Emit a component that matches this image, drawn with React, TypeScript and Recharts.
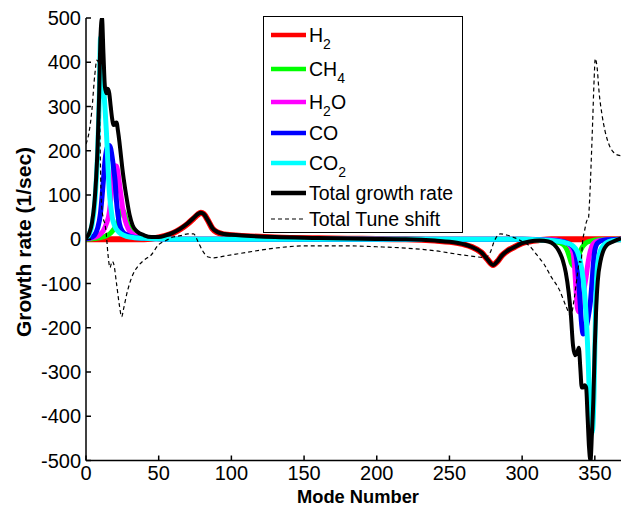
import React from 'react';
import { LineChart, Line, XAxis, YAxis } from 'recharts';

// growth rate per gas species vs. mode number
const h2Modes = [0, 40, 45, 50, 55, 60, 65, 70, 74, 77, 79, 81, 84, 87, 90, 95, 100, 110, 130, 160, 190, 220, 240, 255, 265, 272, 276, 280, 283, 286, 290, 295, 300, 305, 312, 320, 368];
const h2Rate = [0, 0, 1, 4, 8, 14, 23, 35, 47, 56, 60, 57, 42, 24, 16, 11, 9, 7, 4, 2, 1, 0, -3, -8, -17, -30, -45, -58, -50, -37, -26, -17, -9, -5, -2, 0, 0];

const ch4Modes = [0, 10, 14, 17, 19, 21, 22, 23, 24, 25, 26, 27, 28, 30, 33, 37, 45, 60, 300, 315, 322, 326, 329, 331, 333, 334, 335, 336, 337, 338, 339, 340, 341, 342, 344, 347, 352, 368];
const ch4Rate = [0, 4, 8, 14, 22, 32, 40, 55, 63, 66, 62, 52, 40, 25, 12, 6, 2, 0, 0, -2, -5, -8, -14, -25, -45, -55, -60, -60, -55, -45, -35, -27, -20, -15, -8, -4, -1, 0];

const h2oModes = [0, 6, 10, 12, 14, 16, 17, 18, 19, 20, 21, 22, 23, 24, 25, 27, 29, 32, 36, 45, 60, 300, 320, 326, 330, 333, 335, 336, 337, 338, 339, 340, 341, 342, 343, 344, 345, 346, 347, 349, 352, 360, 368];
const h2oRate = [1, 4, 12, 20, 35, 60, 90, 130, 158, 166, 165, 150, 125, 100, 75, 42, 24, 12, 6, 2, 0, 0, -1, -3, -8, -15, -30, -60, -110, -155, -164, -160, -145, -125, -105, -85, -60, -40, -25, -10, -4, -1, 0];

const coModes = [0, 4, 6, 8, 10, 11, 12, 13, 14, 15, 16, 17, 18, 19, 20, 21, 22, 23, 25, 28, 32, 40, 50, 60, 300, 320, 328, 332, 335, 337, 338, 339, 340, 341, 342, 343, 344, 345, 346, 347, 348, 349, 350, 352, 356, 368];
const coRate = [1, 5, 10, 25, 60, 95, 135, 175, 200, 210, 212, 205, 185, 160, 132, 85, 55, 35, 18, 10, 5, 2, 1, 0, 0, -2, -5, -10, -18, -35, -60, -100, -150, -195, -214, -210, -200, -185, -165, -140, -100, -55, -25, -8, -2, 0];

const co2Modes = [0, 2, 4, 6, 7, 8, 9, 10, 11, 12, 13, 14, 15, 16, 17, 18, 20, 23, 26, 30, 40, 50, 60, 300, 310, 320, 330, 335, 338, 340, 342, 344, 345.5, 346.5, 347.5, 348.5, 349.5, 350.5, 351.5, 353, 355, 358, 362, 368];
const co2Rate = [2, 10, 30, 80, 130, 195, 300, 455, 420, 350, 300, 245, 175, 110, 75, 50, 28, 15, 9, 5, 2, 1, 0, 0, -1, -3, -8, -15, -28, -50, -90, -170, -280, -380, -440, -430, -340, -160, -75, -35, -18, -8, -3, -1];

const totalModes = [0, 2, 4, 6, 7, 8, 9, 10, 11, 12, 13, 14, 15, 16, 17, 18, 19, 20, 21, 22, 23, 24, 25, 26, 28, 30, 32, 35, 40, 45, 50, 55, 60, 65, 70, 74, 77, 79, 81, 84, 87, 90, 95, 100, 110, 130, 160, 190, 220, 240, 255, 265, 272, 276, 280, 283, 286, 290, 295, 300, 305, 312, 318, 322, 325, 328, 330, 332, 333.5, 335, 336.5, 338, 339, 340, 341, 342, 343, 344, 345, 346, 347, 348, 349, 350, 351, 352, 354, 356, 358, 362, 368];
const totalRate = [3, 12, 35, 90, 140, 210, 320, 460, 500, 420, 345, 330, 340, 330, 300, 272, 258, 262, 264, 245, 220, 190, 160, 135, 92, 55, 32, 18, 9, 5, 5, 9, 15, 24, 36, 48, 57, 60, 57, 42, 25, 17, 12, 10, 8, 5, 3, 1, 0, -3, -8, -17, -30, -45, -58, -50, -37, -26, -17, -9, -5, -3, -5, -12, -25, -48, -75, -120, -170, -240, -262, -255, -245, -290, -335, -335, -330, -335, -400, -470, -500, -440, -360, -240, -150, -95, -48, -25, -14, -6, 2];

const tuneModes = [0, 2, 4, 6, 7.5, 8.5, 9.5, 10.5, 12, 13, 14, 15, 16.5, 18, 19, 21, 23, 24.5, 26, 28, 30, 32.5, 36, 40, 45, 50, 55, 60, 65, 70, 74, 77, 80, 84, 88, 95, 110, 130, 150, 180, 200, 220, 240, 260, 275, 278, 281, 285, 290, 295, 300, 305, 310, 315, 320, 326, 330, 333.5, 336, 338, 339.5, 340.5, 341.5, 343, 344.5, 345.5, 346.5, 347.5, 348.5, 349.5, 350.3, 351.5, 353, 355, 357, 360, 363, 366, 368];
const tuneShift = [215, 240, 290, 370, 405, 400, 250, 90, 45, 35, 10, -30, -64, -50, -55, -100, -150, -175, -155, -124, -100, -78, -60, -47, -35, -12, -3, 5, 8, 12, 12, -5, -25, -40, -42, -38, -30, -20, -15, -15, -17, -20, -26, -36, -41, -30, -3, 12, 9, 3, -5, -15, -35, -56, -85, -117, -150, -172, -130, -80, -50, -52, -8, 20, 42, 45, 95, 175, 265, 360, 408, 390, 330, 280, 245, 212, 196, 190, 189];

const xTicks = [0, 50, 100, 150, 200, 250, 300, 350];
const yTicks = [-500, -400, -300, -200, -100, 0, 100, 200, 300, 400, 500];

const series = [
  { key: 'h2', modes: h2Modes, values: h2Rate },
  { key: 'ch4', modes: ch4Modes, values: ch4Rate },
  { key: 'h2o', modes: h2oModes, values: h2oRate },
  { key: 'co', modes: coModes, values: coRate },
  { key: 'co2', modes: co2Modes, values: co2Rate },
  { key: 'total', modes: totalModes, values: totalRate },
  { key: 'tune', modes: tuneModes, values: tuneShift },
];

function buildRows() {
  const byMode = new Map<number, any>();
  series.forEach((s) => {
    s.modes.forEach((m, i) => {
      const row = byMode.get(m) ?? { mode: m };
      row[s.key] = s.values[i];
      byMode.set(m, row);
    });
  });
  return Array.from(byMode.values()).sort((a, b) => a.mode - b.mode);
}

const rows = buildRows();

const W = 621;
const H = 506;
const font = '"Liberation Sans", Arial, Helvetica, sans-serif';
const tickStyle = { fill: '#000', fontSize: 20, fontFamily: font };

const subStyle: React.CSSProperties = { fontSize: 14, position: 'relative', top: 7, lineHeight: 0 };

const legendRows = [
  { y: 34, color: '#ff0000', label: <>H<span style={subStyle}>2</span></> },
  { y: 68, color: '#00ff00', label: <>CH<span style={subStyle}>4</span></> },
  { y: 101, color: '#ff00ff', label: <>H<span style={subStyle}>2</span>O</> },
  { y: 132, color: '#0000ff', label: <>CO</> },
  { y: 162, color: '#00ffff', label: <>CO<span style={subStyle}>2</span></> },
  { y: 192, color: '#000000', label: <>Total growth rate</> },
  { y: 218, color: '#000000', label: <>Total Tune shift</>, dashed: true },
];

function LegendBox() {
  const left = 263;
  const top = 16;
  return (
    <div
      style={{
        position: 'absolute',
        left,
        top,
        width: 198,
        height: 215,
        border: '1px solid #000',
        background: '#fff',
        fontFamily: font,
        fontSize: 19.5,
        color: '#000',
      }}
    >
      {legendRows.map((r, i) => (
        <div key={i} style={{ position: 'absolute', left: 0, top: r.y - top - 13, height: 26, width: 198 }}>
          <svg width={40} height={26} style={{ position: 'absolute', left: 6, top: 0 }}>
            <line
              x1={1}
              x2={36}
              y1={13}
              y2={13}
              stroke={r.color}
              strokeWidth={r.dashed ? 1.2 : 4.5}
              strokeDasharray={r.dashed ? '4 3' : undefined}
            />
          </svg>
          <div style={{ position: 'absolute', left: 45, top: 1, lineHeight: '24px', whiteSpace: 'nowrap' }}>{r.label}</div>
        </div>
      ))}
    </div>
  );
}

export default function App() {
  return (
    <div style={{ position: 'relative', width: W, height: H, background: '#fff', overflow: 'hidden' }}>
      <style>{'body{margin:0;}'}</style>
      <LineChart width={W} height={H} data={rows} margin={{ top: 18, right: 0, bottom: 15, left: 0 }}>
        <XAxis
          dataKey="mode"
          type="number"
          domain={[0, 368]}
          ticks={xTicks}
          interval={0}
          allowDataOverflow
          height={30.5}
          tickSize={-5}
          tickMargin={10.5}
          stroke="#000"
          strokeWidth={1.5}
          tick={tickStyle}
        />
        <XAxis
          xAxisId="top"
          orientation="top"
          dataKey="mode"
          type="number"
          domain={[0, 368]}
          ticks={xTicks}
          interval={0}
          allowDataOverflow
          height={0}
          tickSize={-5}
          tickFormatter={() => ''}
          stroke="#000"
        />
        <YAxis
          type="number"
          domain={[-500, 500]}
          ticks={yTicks}
          interval={0}
          allowDataOverflow
          width={86}
          tickSize={-5}
          tickMargin={10}
          stroke="#000"
          strokeWidth={1.5}
          tick={tickStyle}
        />
        <Line dataKey="h2" type="monotone" stroke="#ff0000" strokeWidth={6} dot={false} connectNulls isAnimationActive={false} />
        <Line dataKey="ch4" type="monotone" stroke="#00ff00" strokeWidth={5} dot={false} connectNulls isAnimationActive={false} />
        <Line dataKey="h2o" type="monotone" stroke="#ff00ff" strokeWidth={5} dot={false} connectNulls isAnimationActive={false} />
        <Line dataKey="co" type="monotone" stroke="#0000ff" strokeWidth={5} dot={false} connectNulls isAnimationActive={false} />
        <Line dataKey="co2" type="monotone" stroke="#00ffff" strokeWidth={5} dot={false} connectNulls isAnimationActive={false} />
        <Line dataKey="total" type="monotone" stroke="#000000" strokeWidth={4} dot={false} connectNulls isAnimationActive={false} />
        <Line
          dataKey="tune"
          type="monotone"
          stroke="#000000"
          strokeWidth={1.2}
          strokeDasharray="4 3"
          dot={false}
          connectNulls
          isAnimationActive={false}
        />
      </LineChart>
      <svg width={W} height={H} style={{ position: 'absolute', left: 0, top: 0, pointerEvents: 'none' }}>
        <text
          x={0}
          y={0}
          transform="translate(23,242) rotate(-90)"
          textAnchor="middle"
          dominantBaseline="central"
          fontFamily={font}
          fontWeight="bold"
          fontSize={21}
        >
          Growth rate (1/sec)
        </text>
        <text
          x={358}
          y={496}
          textAnchor="middle"
          dominantBaseline="central"
          fontFamily={font}
          fontWeight="bold"
          fontSize={19}
          textLength={122}
          lengthAdjust="spacingAndGlyphs"
        >
          Mode Number
        </text>
      </svg>
      <LegendBox />
    </div>
  );
}
